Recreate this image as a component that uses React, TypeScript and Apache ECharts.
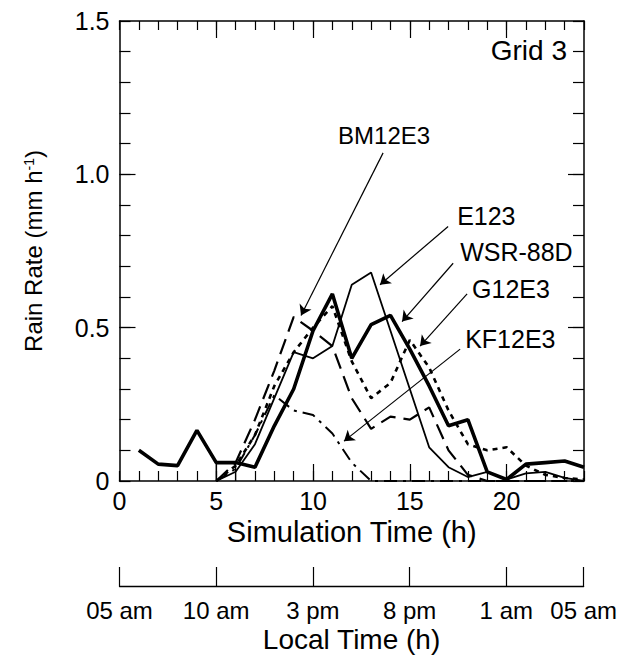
import React, { useEffect, useRef } from "react";
import * as echarts from "echarts";

// ---- data ----
const obsHours = [1, 2, 3, 4, 5, 6, 7, 8, 9, 10, 11, 12, 13, 14, 15, 16, 17, 18, 19, 20, 21, 22, 23, 24];
const wsr88d = [0.10, 0.055, 0.05, 0.165, 0.06, 0.06, 0.045, 0.18, 0.30, 0.49, 0.61, 0.40, 0.51, 0.54, 0.43, 0.31, 0.18, 0.20, 0.03, 0.005, 0.055, 0.06, 0.065, 0.045];

const modelHours = [5, 6, 7, 8, 9, 10, 11, 12, 13, 14, 15, 16, 17, 18, 19, 20, 21, 22, 23, 24];
const e123 = [0, 0.03, 0.12, 0.27, 0.42, 0.40, 0.44, 0.64, 0.68, 0.49, 0.30, 0.11, 0.045, 0.013, 0.03, 0.005, 0.025, 0.03, 0.01, 0];
const bm12e3 = [0, 0.06, 0.20, 0.36, 0.535, 0.49, 0.44, 0.27, 0.17, 0.21, 0.20, 0.24, 0.10, 0.02, 0, 0, 0, 0, 0, 0];
const g12e3 = [0, 0.05, 0.15, 0.31, 0.42, 0.50, 0.57, 0.39, 0.27, 0.32, 0.46, 0.37, 0.23, 0.12, 0.10, 0.11, 0.05, 0.02, 0.01, 0.005];
const kf12e3 = [0, 0.04, 0.15, 0.28, 0.23, 0.215, 0.155, 0.06, 0, 0, 0, 0, 0, 0, 0, 0, 0, 0, 0, 0];

// small vertical edges drawn under the observed curve at hours 5 and 6
const edgeHours = [5, 5, 6, 6];
const edgeValues = [0, 0.06, 0.06, 0];

const simLabelValues = [0, 5, 10, 15, 20];
const majorSimTicks = [5, 10, 15, 20];
const localTickHours = [0, 5, 10, 15, 20, 24];
const localTickLabels = ["05 am", "10 am", "3 pm", "8 pm", "1 am", "05 am"];
const rateLabelValues = [0, 0.5, 1.0, 1.5];
const majorRateTicks = [0.5, 1.0];

// annotation arrows: from (hour, rate) to (hour, rate)
const arrowNames = ["BM12E3", "E123", "WSR-88D", "G12E3", "KF12E3"];
const arrowFrom = [[13.62, 1.07], [16.98, 0.83], [17.24, 0.71], [17.96, 0.61], [17.6, 0.43]];
const arrowTo = [[9.38, 0.54], [13.46, 0.64], [14.6, 0.52], [15.53, 0.44], [11.6, 0.13]];

const FONT = "'Liberation Sans', Arial, Helvetica, sans-serif";

const pair = (xs: number[], ys: number[]) => xs.map((x, i) => [x, ys[i]]);

export default function App() {
  const ref = useRef<HTMLDivElement>(null);

  useEffect(() => {
    if (!ref.current) return;
    const chart = echarts.init(ref.current, undefined, { renderer: "svg" });

    const gridL = 119.5;
    const gridR = 36;
    const tickStyle = { color: "#000", width: 1.2 };
    const axisCommon = {
      min: 0,
      max: 24,
      type: "value" as const,
      splitLine: { show: false },
    };

    const lineStyleBase = { color: "#000" };

    const arrowSeries = {
      type: "line",
      data: [],
      xAxisIndex: 0,
      yAxisIndex: 0,
      silent: true,
      markLine: {
        silent: true,
        symbol: ["none", "arrow"],
        symbolSize: 10,
        label: { show: false },
        lineStyle: { type: "solid", color: "#000", width: 1.2 },
        data: arrowNames.map((_, i) => [
          { coord: arrowFrom[i] },
          { coord: arrowTo[i] },
        ]),
      },
    };

    const option: any = {
      animation: false,
      backgroundColor: "#fff",
      textStyle: { fontFamily: FONT, color: "#000" },
      grid: [
        { left: gridL, right: gridR, top: 21, bottom: 176 },
        { left: gridL, right: gridR, top: 585, height: 1 },
      ],
      xAxis: [
        {
          ...axisCommon,
          gridIndex: 0,
          position: "bottom",
          interval: 1,
          axisLine: { onZero: false, lineStyle: { color: "#000", width: 1.5 } },
          axisTick: { inside: true, length: 10, lineStyle: tickStyle },
          axisLabel: {
            customValues: simLabelValues,
            fontSize: 25,
            color: "#000",
            margin: 7,
            fontFamily: FONT,
          },
          name: "Simulation Time (h)",
          nameLocation: "middle",
          nameGap: 33,
          nameTextStyle: { fontSize: 29, color: "#000", fontFamily: FONT },
        },
        {
          ...axisCommon,
          gridIndex: 0,
          position: "bottom",
          axisLine: { show: false, onZero: false },
          axisTick: { inside: true, length: 17, customValues: majorSimTicks, lineStyle: tickStyle },
          axisLabel: { show: false },
        },
        {
          ...axisCommon,
          gridIndex: 0,
          position: "top",
          interval: 1,
          axisLine: { onZero: false, lineStyle: { color: "#000", width: 1.5 } },
          axisTick: { inside: true, length: 9, lineStyle: tickStyle },
          axisLabel: { show: false },
        },
        {
          ...axisCommon,
          gridIndex: 0,
          position: "top",
          axisLine: { show: false, onZero: false },
          axisTick: { inside: true, length: 17, customValues: majorSimTicks, lineStyle: tickStyle },
          axisLabel: { show: false },
        },
        {
          ...axisCommon,
          gridIndex: 1,
          position: "bottom",
          axisLine: { onZero: false, lineStyle: { color: "#000", width: 1.3 } },
          axisTick: { inside: true, length: 19, customValues: localTickHours, lineStyle: tickStyle },
          axisLabel: {
            customValues: localTickHours,
            formatter: (v: number) => localTickLabels[localTickHours.indexOf(v)] ?? "",
            fontSize: 24,
            color: "#000",
            margin: 12,
            fontFamily: FONT,
          },
          name: "Local Time (h)",
          nameLocation: "middle",
          nameGap: 39,
          nameTextStyle: { fontSize: 28, color: "#000", fontFamily: FONT },
        },
      ],
      yAxis: [
        {
          type: "value",
          gridIndex: 0,
          position: "left",
          min: 0,
          max: 1.5,
          interval: 0.1,
          splitLine: { show: false },
          axisLine: { show: true, onZero: false, lineStyle: { color: "#000", width: 1.5 } },
          axisTick: { show: true, inside: true, length: 11, lineStyle: tickStyle },
          axisLabel: {
            customValues: rateLabelValues,
            formatter: (v: number) => (v === 0 ? "0" : v.toFixed(1)),
            fontSize: 25,
            color: "#000",
            margin: 10,
            fontFamily: FONT,
          },
          name: "Rain Rate (mm h{sup|-1})",
          nameLocation: "middle",
          nameRotate: 90,
          nameGap: 74,
          nameTextStyle: {
            fontSize: 24,
            color: "#000",
            fontFamily: FONT,
            rich: {
              sup: { fontSize: 14, verticalAlign: "top", color: "#000", fontFamily: FONT, padding: [0, 0, 10, 0] },
            },
          },
        },
        {
          type: "value",
          gridIndex: 0,
          position: "left",
          min: 0,
          max: 1.5,
          splitLine: { show: false },
          axisLine: { show: false, onZero: false },
          axisTick: { show: true, inside: true, length: 16, customValues: majorRateTicks, lineStyle: tickStyle },
          axisLabel: { show: false },
        },
        {
          type: "value",
          gridIndex: 0,
          position: "right",
          min: 0,
          max: 1.5,
          interval: 0.1,
          splitLine: { show: false },
          axisLine: { show: true, onZero: false, lineStyle: { color: "#000", width: 1.5 } },
          axisTick: { show: true, inside: true, length: 11, lineStyle: tickStyle },
          axisLabel: { show: false },
        },
        {
          type: "value",
          gridIndex: 0,
          position: "right",
          min: 0,
          max: 1.5,
          splitLine: { show: false },
          axisLine: { show: false, onZero: false },
          axisTick: { show: true, inside: true, length: 16, customValues: majorRateTicks, lineStyle: tickStyle },
          axisLabel: { show: false },
        },
        {
          type: "value",
          gridIndex: 1,
          min: 0,
          max: 1,
          show: false,
        },
      ],
      series: [
        {
          name: "edges",
          type: "line",
          data: pair(edgeHours, edgeValues),
          symbol: "none",
          lineStyle: { ...lineStyleBase, width: 1.3 },
          z: 2,
        },
        {
          name: "E123",
          type: "line",
          data: pair(modelHours, e123),
          symbol: "none",
          lineStyle: { ...lineStyleBase, width: 1.8 },
          z: 3,
        },
        {
          name: "BM12E3",
          type: "line",
          data: pair(modelHours, bm12e3),
          symbol: "none",
          lineStyle: { ...lineStyleBase, width: 2.2, type: [16, 8] },
          z: 3,
        },
        {
          name: "G12E3",
          type: "line",
          data: pair(modelHours, g12e3),
          symbol: "none",
          lineStyle: { ...lineStyleBase, width: 2.6, type: [5, 5] },
          z: 3,
        },
        {
          name: "KF12E3",
          type: "line",
          data: pair(modelHours, kf12e3),
          symbol: "none",
          lineStyle: { ...lineStyleBase, width: 2, type: [13, 6, 3, 6] },
          z: 3,
        },
        {
          name: "WSR-88D",
          type: "line",
          data: pair(obsHours, wsr88d),
          symbol: "none",
          lineStyle: { ...lineStyleBase, width: 3.6 },
          z: 4,
        },
        arrowSeries,
      ],
    };

    chart.setOption(option);

    // annotation texts placed just above the start of each arrow
    const labelOffsets = [
      [-45, -17],
      [9, -10],
      [7, -11],
      [5, -5],
      [5, -10],
    ];
    const textEls: any[] = arrowNames.map((name, i) => {
      const p = chart.convertToPixel({ gridIndex: 0 }, arrowFrom[i]) as number[];
      return {
        type: "text",
        x: p[0] + labelOffsets[i][0],
        y: p[1] + labelOffsets[i][1],
        silent: true,
        style: {
          text: name,
          fontSize: i === 0 ? 24 : 25,
          fontFamily: FONT,
          fill: "#000",
          textAlign: "left",
          textVerticalAlign: "middle",
        },
      };
    });
    textEls.push({
      type: "text",
      right: gridR + 17,
      top: 36,
      silent: true,
      style: {
        text: "Grid 3",
        fontSize: 28,
        fontFamily: FONT,
        fill: "#000",
      },
    });
    chart.setOption({ graphic: textEls });

    return () => chart.dispose();
  }, []);

  return (
    <div
      ref={ref}
      style={{ position: "absolute", left: 0, top: 0, width: 620, height: 657, background: "#fff" }}
    />
  );
}
